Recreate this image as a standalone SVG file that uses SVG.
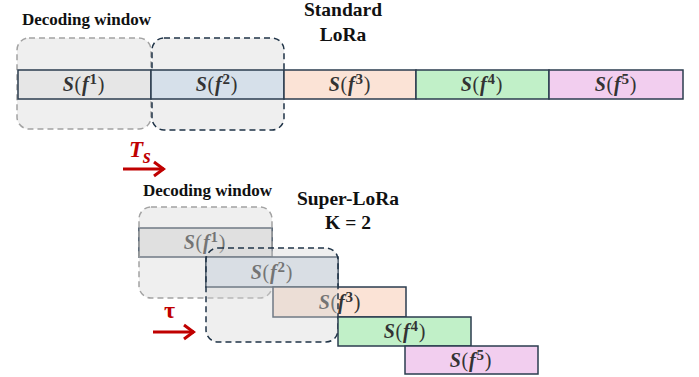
<svg xmlns="http://www.w3.org/2000/svg" width="699" height="377" viewBox="0 0 699 377">
<style>
.lbl{font-family:"Liberation Serif",serif;font-weight:bold;font-size:17px;fill:#111}
.ttl{font-family:"Liberation Serif",serif;font-weight:bold;font-size:19.5px;fill:#111;text-anchor:middle}
.seg{stroke:#2b3d4f;stroke-width:1.5}
.st{font-family:"Liberation Serif",serif;font-size:20px;fill:#333;text-anchor:middle;letter-spacing:0.8px}
.it{font-style:italic;font-weight:bold}
.sup{font-size:15px;font-weight:bold}
.win1{fill:#d6d6d6;fill-opacity:0.4;stroke:#a3a3a3;stroke-width:1.5;stroke-dasharray:6 4}
.win2{fill:#d6d6d6;fill-opacity:0.4;stroke:#1f3347;stroke-width:1.5;stroke-dasharray:6 4}
.red{fill:#c00000}
.arr{stroke:#c00000;stroke-width:3;fill:none}
</style>
<defs>
<marker id="ah" viewBox="0 0 14 18" refX="12" refY="9" markerWidth="14" markerHeight="18" orient="auto" markerUnits="userSpaceOnUse">
<path d="M2,2 L11.5,9 L2,16" fill="none" stroke="#c00000" stroke-width="3" stroke-linejoin="miter"/>
</marker>
</defs>

<!-- Standard LoRa -->
<g id="title-standard">
<text class="ttl" x="343" y="16">Standard</text>
<text class="ttl" x="343" y="41">LoRa</text>
</g>
<text class="lbl" x="22" y="25">Decoding window</text>

<g id="top-window1"><rect class="win1" x="17" y="38" width="134" height="91" rx="12"/></g>
<g id="top-window2"><rect class="win2" x="152" y="38" width="132" height="92" rx="12"/></g>

<g id="top-f1"><rect class="seg" x="18" y="70" width="133" height="29" fill="#e6e6e6"/>
<text class="st" x="84" y="91"><tspan class="it">S</tspan>(<tspan class="it">f</tspan><tspan class="sup" dy="-7">1</tspan><tspan dy="7">)</tspan></text></g>
<g id="top-f2"><rect class="seg" x="151" y="70" width="133" height="29" fill="#d6e0ea"/>
<text class="st" x="217" y="91"><tspan class="it">S</tspan>(<tspan class="it">f</tspan><tspan class="sup" dy="-7">2</tspan><tspan dy="7">)</tspan></text></g>
<g id="top-f3"><rect class="seg" x="284" y="70" width="132" height="29" fill="#fbe3d6"/>
<text class="st" x="350" y="91"><tspan class="it">S</tspan>(<tspan class="it">f</tspan><tspan class="sup" dy="-7">3</tspan><tspan dy="7">)</tspan></text></g>
<g id="top-f4"><rect class="seg" x="416" y="70" width="133" height="29" fill="#c1f0c8"/>
<text class="st" x="482" y="91"><tspan class="it">S</tspan>(<tspan class="it">f</tspan><tspan class="sup" dy="-7">4</tspan><tspan dy="7">)</tspan></text></g>
<g id="top-f5"><rect class="seg" x="549" y="70" width="134" height="29" fill="#f2ceef"/>
<text class="st" x="616" y="91"><tspan class="it">S</tspan>(<tspan class="it">f</tspan><tspan class="sup" dy="-7">5</tspan><tspan dy="7">)</tspan></text></g>

<!-- Super-LoRa -->
<g id="title-super">
<text class="ttl" x="348" y="205">Super-LoRa</text>
<text class="ttl" x="348" y="229">K = 2</text>
</g>
<text class="lbl" x="143" y="196">Decoding window</text>

<g id="bot-f1"><rect class="seg" x="139" y="228" width="133" height="29" fill="#e6e6e6"/>
<text class="st" x="205" y="249"><tspan class="it">S</tspan>(<tspan class="it">f</tspan><tspan class="sup" dy="-7">1</tspan><tspan dy="7">)</tspan></text></g>
<g id="bot-window1"><rect class="win1" x="139" y="207" width="133" height="91" rx="12"/></g>
<g id="bot-f2"><rect class="seg" x="206" y="257" width="132" height="30" fill="#dae3ed"/>
<text class="st" x="272" y="279"><tspan class="it">S</tspan>(<tspan class="it">f</tspan><tspan class="sup" dy="-7">2</tspan><tspan dy="7">)</tspan></text></g>
<g id="bot-f3"><rect class="seg" x="273" y="287" width="133" height="30" fill="#fbe3d6"/>
<text class="st" x="340" y="309"><tspan class="it">S</tspan>(<tspan class="it">f</tspan><tspan class="sup" dy="-7">3</tspan><tspan dy="7">)</tspan></text></g>

<g id="bot-window2"><rect class="win2" x="206" y="248" width="132" height="94" rx="12"/></g>

<g id="bot-f4"><rect class="seg" x="338" y="317" width="133" height="29" fill="#c1f0c8"/>
<text class="st" x="405" y="338"><tspan class="it">S</tspan>(<tspan class="it">f</tspan><tspan class="sup" dy="-7">4</tspan><tspan dy="7">)</tspan></text></g>
<g id="bot-f5"><rect class="seg" x="405" y="346" width="133" height="28" fill="#f2ceef"/>
<text class="st" x="471" y="367"><tspan class="it">S</tspan>(<tspan class="it">f</tspan><tspan class="sup" dy="-7">5</tspan><tspan dy="7">)</tspan></text></g>

<!-- connectors -->
<g id="connectors">
<line class="arr" x1="123" y1="169" x2="164" y2="169" marker-end="url(#ah)"/>
<line class="arr" x1="153" y1="332" x2="194" y2="332" marker-end="url(#ah)"/>
</g>
<g id="labels-red">
<text class="red" x="129" y="157" font-family="'Liberation Serif',serif" font-style="italic" font-weight="bold" font-size="23">T<tspan font-size="20" dy="6">s</tspan></text>
<text class="red" x="164" y="318" font-family="'Liberation Serif',serif" font-weight="bold" font-size="24">τ</text>
</g>
</svg>
